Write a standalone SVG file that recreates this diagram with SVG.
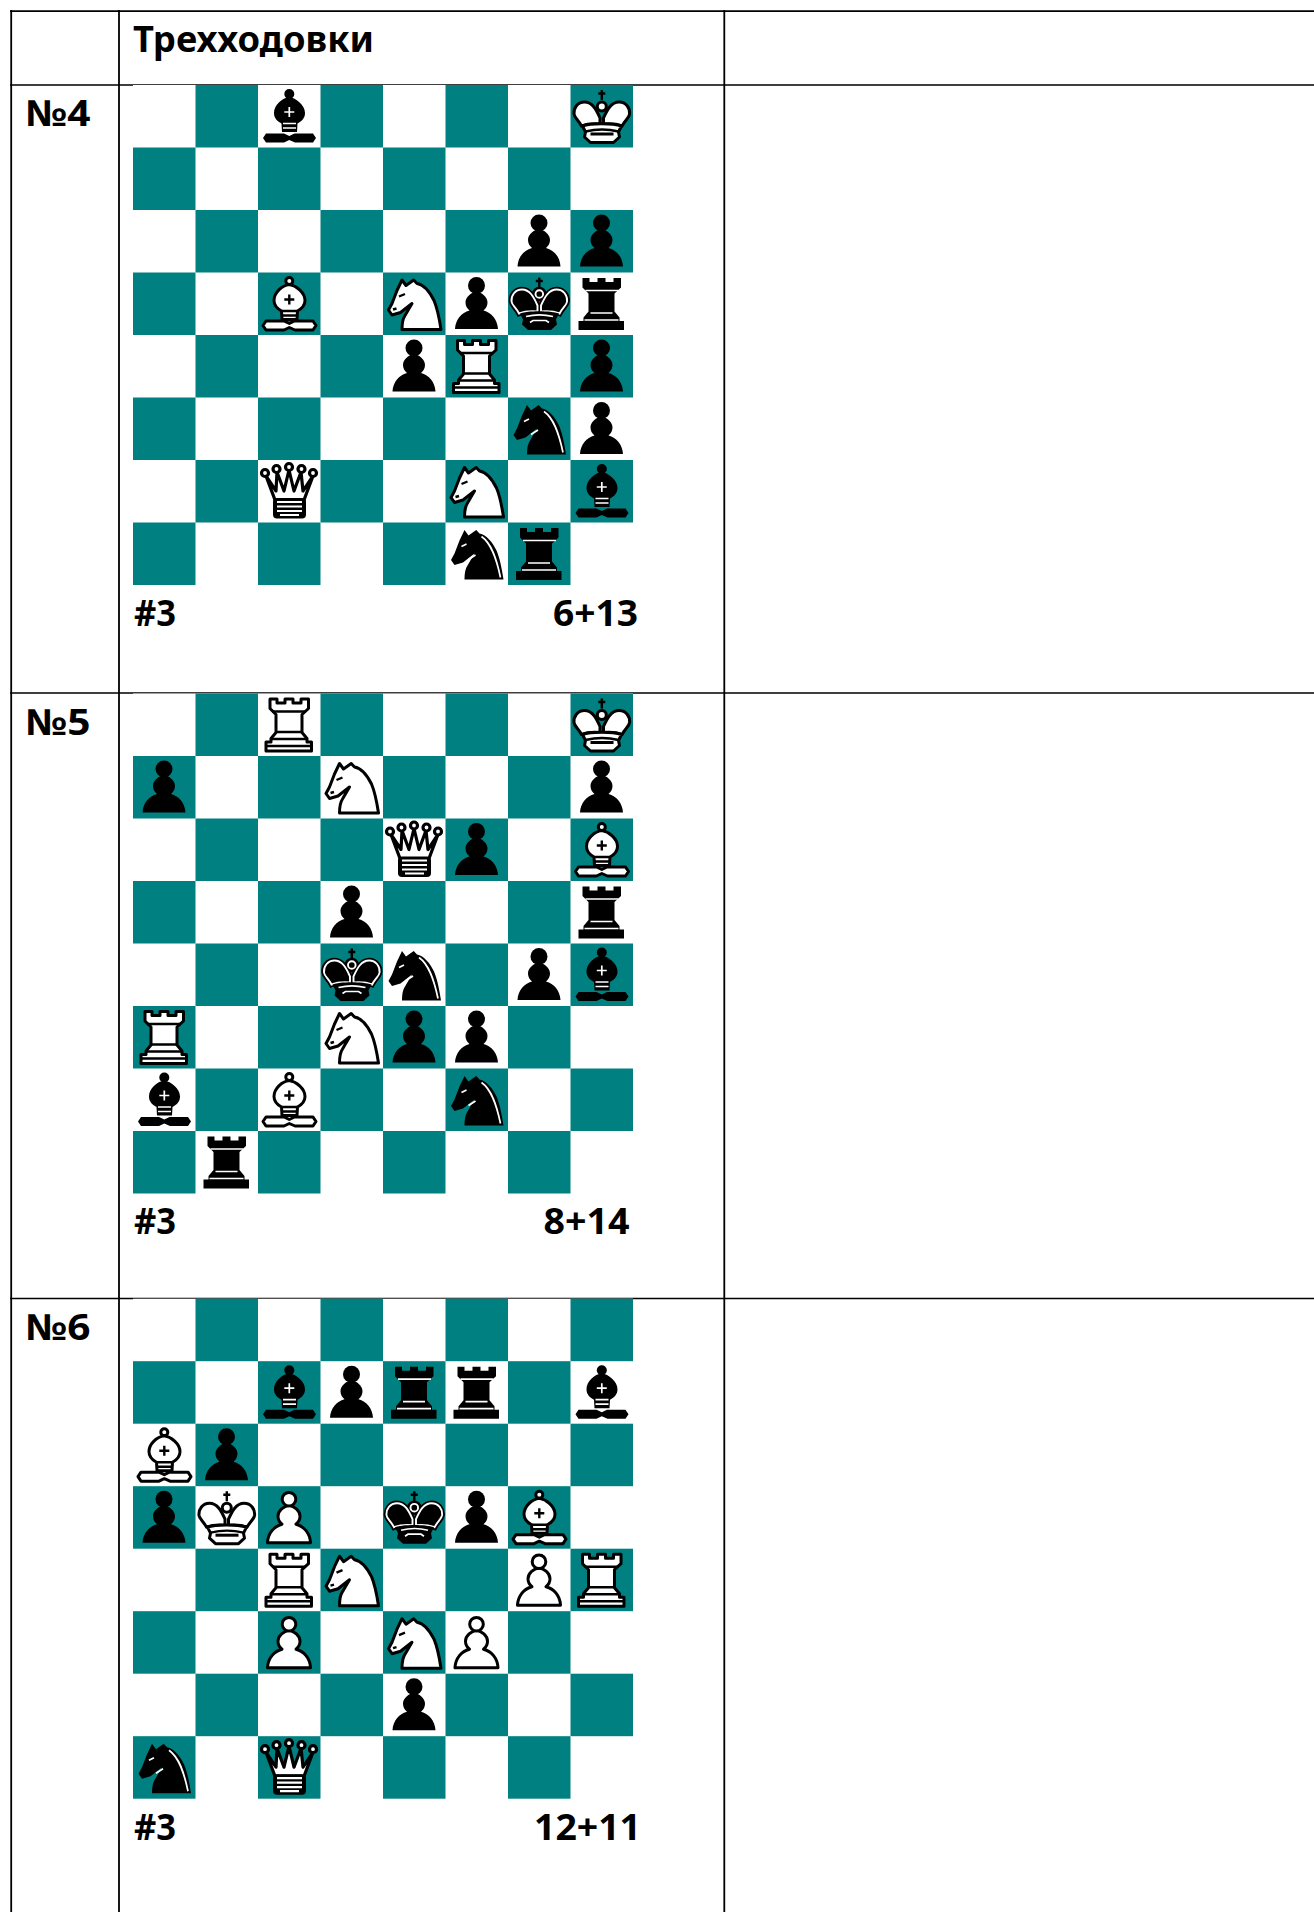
<svg xmlns="http://www.w3.org/2000/svg" width="1314" height="1912" viewBox="0 0 1314 1912">
<style>
.t{font-family:"Noto Sans","Open Sans","Liberation Sans",sans-serif;font-weight:700;font-size:36px;fill:#000}
.ln{stroke:#000;fill:none}
.d{fill:#008080}
.wp{fill:#fff;stroke:#000;stroke-width:3;stroke-linejoin:round}
.bp{fill:#000;stroke:none}
.kl{fill:none;stroke:#000;stroke-width:2.4}
.wl{fill:none;stroke:#fff;stroke-width:1.7}
</style>
<defs>
<path id="pB" d="M31 19C36 20 42 24 42 30C42 33 40.500 36 38 38C46 40 52 47 52.500 56.500H9.500C10 47 16 40 24 38C21.500 36 20 33 20 30C20 24 26 20 31 19Z"/>
<path id="rS" d="M12 5.500H19V9.500H27V5.500H35V9.500H43V5.500H50.500V15L44 21V39L49 45V48.500H53.500V57.500H8V48.500H13V45L18 39V21L12 15Z"/>
<path id="bB" d="M31.300 12C38 13 47 20 47 28C47 33 44 36 39.500 38.500L39 47H24L23.500 38.500C19 36 16 33 16 28C16 20 24 13 31.300 12Z"/>
<path id="bS" d="M5 53L8 48.500H26L31.300 51L36.500 48.500H55L58 53L55 57.500H37L31.300 55L26 57.500H8Z"/>
<path id="kL" d="M29.500 39V33C26 25 22 17 14 17C7 17 3 23 3.500 29C4 33 8 35 11 41C16 39 24 38.500 29.500 39Z"/>
<path id="kR" d="M33 39V33C36.600 25 40.600 17 48.600 17C55.600 17 59.600 23 59.100 29C58.600 33 54.600 35 51.600 41C46.600 39 38.600 38.500 33 39Z"/>
<path id="kB" d="M12 41C20 38 42 38 51 41L48 47L49 52L43 57.500H20L14 52L15 47Z"/>
<path id="nS" d="M19 7.500L23 13L30.700 7.500L34 11C41 12 47 20 51 28C54 35 56 44 58 57H19C19 50 20 46 22 43L29 31L17.500 40L9 42.500L5.500 37.500L9 31L14 18Z"/>
<g id="wP" class="wp"><use href="#pB"/><circle cx="31" cy="13" r="6.800"/></g>
<g id="bP" class="bp"><circle cx="31" cy="13" r="8.500"/><use href="#pB"/></g>
<g id="wR"><use href="#rS" class="wp"/><path class="kl" d="M14 18H48M19 38.500H43M14 45.500H48M9 52.500H53"/></g>
<g id="bR"><use href="#rS" class="bp"/><path class="wl" d="M15 18H48M20 40.500H42M14 47.500H48"/></g>
<g id="wB"><g class="wp"><circle cx="31.300" cy="8.500" r="3.500"/><use href="#bB"/><use href="#bS"/></g><path class="kl" stroke-width="3" d="M31.300 22V32M26.300 27H36.300"/><path class="kl" d="M24 38.500H39M24 43H39"/></g>
<g id="bB2"><g class="bp"><circle cx="31.300" cy="9" r="5"/><use href="#bB"/><use href="#bS"/></g><path class="wl" stroke-width="2.600" d="M31.300 22V32M26.300 27H36.300"/><path class="wl" d="M25 38.500H38M25 43H38"/></g>
<g id="wK"><path class="kl" stroke-width="3" d="M31.300 5V15M27.800 8.500H34.800"/><g class="wp"><use href="#kL"/><use href="#kR"/><circle cx="31.300" cy="21.500" r="4.500"/><use href="#kB"/></g><path class="kl" d="M15 46.500C25 44 38 44 48 46.500"/><rect x="20" y="47.500" width="23" height="3" fill="#000"/></g>
<g id="bK"><path class="kl" stroke-width="3" d="M31.300 5V15M27.800 8.500H34.800"/><g fill="#000" stroke="#000" stroke-width="5.500"><use href="#kL"/><use href="#kR"/><circle cx="31.300" cy="21.500" r="4.500"/></g><g fill="#000" stroke="#fff" stroke-width="1.900"><use href="#kL"/><use href="#kR"/><circle cx="31.300" cy="21.500" r="3.800"/></g><use href="#kB" class="bp"/><path class="wl" d="M18 44C26 42 37 42 45 44M22 50L25 48H38L41 50"/></g>
<g id="wQ"><g fill="#fff" stroke="#000" stroke-width="3.200" stroke-linejoin="round"><path d="M8 16L17 40H46L55 16L45 31L43 12L36 31L31 10L26 31L19 12L18 31Z"/><circle cx="7" cy="13" r="3.500"/><circle cx="18.500" cy="9" r="3.500"/><circle cx="31" cy="7" r="3.500"/><circle cx="43.500" cy="9" r="3.500"/><circle cx="55" cy="13" r="3.500"/></g><rect x="15" y="38" width="33" height="20.500" rx="4" fill="#000"/><path d="M19 42H44M19 46.500H44M19 51H44M22 55H41" stroke="#fff" stroke-width="2.200"/></g>
<g id="wN"><use href="#nS" class="wp"/><path class="kl" d="M16 24L22 21.500M10 37L13.500 36"/></g>
<g id="bN"><use href="#nS" class="bp"/><path class="wl" d="M36 14C46 21 51 36 55 55M16 24L21 21.500M23 37L30 32.500"/></g>
<g id="board">
<rect width="500" height="500" fill="#fff"/>
<g class="d">
<rect x="62.500" y="0" width="62.500" height="62.500"/><rect x="187.500" y="0" width="62.500" height="62.500"/><rect x="312.500" y="0" width="62.500" height="62.500"/><rect x="437.500" y="0" width="62.500" height="62.500"/>
<rect x="0" y="62.500" width="62.500" height="62.500"/><rect x="125" y="62.500" width="62.500" height="62.500"/><rect x="250" y="62.500" width="62.500" height="62.500"/><rect x="375" y="62.500" width="62.500" height="62.500"/>
<rect x="62.500" y="125" width="62.500" height="62.500"/><rect x="187.500" y="125" width="62.500" height="62.500"/><rect x="312.500" y="125" width="62.500" height="62.500"/><rect x="437.500" y="125" width="62.500" height="62.500"/>
<rect x="0" y="187.500" width="62.500" height="62.500"/><rect x="125" y="187.500" width="62.500" height="62.500"/><rect x="250" y="187.500" width="62.500" height="62.500"/><rect x="375" y="187.500" width="62.500" height="62.500"/>
<rect x="62.500" y="250" width="62.500" height="62.500"/><rect x="187.500" y="250" width="62.500" height="62.500"/><rect x="312.500" y="250" width="62.500" height="62.500"/><rect x="437.500" y="250" width="62.500" height="62.500"/>
<rect x="0" y="312.500" width="62.500" height="62.500"/><rect x="125" y="312.500" width="62.500" height="62.500"/><rect x="250" y="312.500" width="62.500" height="62.500"/><rect x="375" y="312.500" width="62.500" height="62.500"/>
<rect x="62.500" y="375" width="62.500" height="62.500"/><rect x="187.500" y="375" width="62.500" height="62.500"/><rect x="312.500" y="375" width="62.500" height="62.500"/><rect x="437.500" y="375" width="62.500" height="62.500"/>
<rect x="0" y="437.500" width="62.500" height="62.500"/><rect x="125" y="437.500" width="62.500" height="62.500"/><rect x="250" y="437.500" width="62.500" height="62.500"/><rect x="375" y="437.500" width="62.500" height="62.500"/>
</g>
</g>
</defs>
<rect width="1314" height="1912" fill="#fff"/>
<g id="table" class="ln">
<path stroke-width="1.800" d="M11.200 10V1912M119 10V1912M724.300 10V1912M10 11.200H1314"/>
<path stroke-width="1.600" d="M10 85H1314M10 693H1314M10 1298.500H1314"/>
</g>
<g id="board4" transform="translate(133,85)">
<use href="#board"/>
<use href="#bB2" x="125" y="0"/><use href="#wK" x="437.500" y="0"/>
<use href="#bP" x="375" y="125"/><use href="#bP" x="437.500" y="125"/>
<use href="#wB" x="125" y="187.500"/><use href="#wN" x="250" y="187.500"/><use href="#bP" x="312.500" y="187.500"/><use href="#bK" x="375" y="187.500"/><use href="#bR" x="437.500" y="187.500"/>
<use href="#bP" x="250" y="250"/><use href="#wR" x="312.500" y="250"/><use href="#bP" x="437.500" y="250"/>
<use href="#bN" x="375" y="312.500"/><use href="#bP" x="437.500" y="312.500"/>
<use href="#wQ" x="125" y="375"/><use href="#wN" x="312.500" y="375"/><use href="#bB2" x="437.500" y="375"/>
<use href="#bN" x="312.500" y="437.500"/><use href="#bR" x="375" y="437.500"/>
</g>
<g id="board5" transform="translate(133,693.500)">
<use href="#board"/>
<use href="#wR" x="125" y="0"/><use href="#wK" x="437.500" y="0"/>
<use href="#bP" x="0" y="62.500"/><use href="#wN" x="187.500" y="62.500"/><use href="#bP" x="437.500" y="62.500"/>
<use href="#wQ" x="250" y="125"/><use href="#bP" x="312.500" y="125"/><use href="#wB" x="437.500" y="125"/>
<use href="#bP" x="187.500" y="187.500"/><use href="#bR" x="437.500" y="187.500"/>
<use href="#bK" x="187.500" y="250"/><use href="#bN" x="250" y="250"/><use href="#bP" x="375" y="250"/><use href="#bB2" x="437.500" y="250"/>
<use href="#wR" x="0" y="312.500"/><use href="#wN" x="187.500" y="312.500"/><use href="#bP" x="250" y="312.500"/><use href="#bP" x="312.500" y="312.500"/>
<use href="#bB2" x="0" y="375"/><use href="#wB" x="125" y="375"/><use href="#bN" x="312.500" y="375"/>
<use href="#bR" x="62.500" y="437.500"/>
</g>
<g id="board6" transform="translate(133,1298.700)">
<use href="#board"/>
<use href="#bB2" x="125" y="62.500"/><use href="#bP" x="187.500" y="62.500"/><use href="#bR" x="250" y="62.500"/><use href="#bR" x="312.500" y="62.500"/><use href="#bB2" x="437.500" y="62.500"/>
<use href="#wB" x="0" y="125"/><use href="#bP" x="62.500" y="125"/>
<use href="#bP" x="0" y="187.500"/><use href="#wK" x="62.500" y="187.500"/><use href="#wP" x="125" y="187.500"/><use href="#bK" x="250" y="187.500"/><use href="#bP" x="312.500" y="187.500"/><use href="#wB" x="375" y="187.500"/>
<use href="#wR" x="125" y="250"/><use href="#wN" x="187.500" y="250"/><use href="#wP" x="375" y="250"/><use href="#wR" x="437.500" y="250"/>
<use href="#wP" x="125" y="312.500"/><use href="#wN" x="250" y="312.500"/><use href="#wP" x="312.500" y="312.500"/>
<use href="#bP" x="250" y="375"/>
<use href="#bN" x="0" y="437.500"/><use href="#wQ" x="125" y="437.500"/>
</g>
<g id="labels">
<text class="t" x="133" y="51.500" textLength="241" lengthAdjust="spacingAndGlyphs">Трехходовки</text>
<text class="t" x="25.500" y="125.500" textLength="65" lengthAdjust="spacingAndGlyphs">№4</text>
<text class="t" x="25.500" y="734.500" textLength="65" lengthAdjust="spacingAndGlyphs">№5</text>
<text class="t" x="25.500" y="1339.500" textLength="65" lengthAdjust="spacingAndGlyphs">№6</text>
<text class="t" x="134" y="625.500" textLength="42" lengthAdjust="spacingAndGlyphs">#3</text>
<text class="t" x="134" y="1234" textLength="42" lengthAdjust="spacingAndGlyphs">#3</text>
<text class="t" x="134" y="1839.500" textLength="42" lengthAdjust="spacingAndGlyphs">#3</text>
<text class="t" x="553" y="625.500" textLength="85" lengthAdjust="spacingAndGlyphs">6+13</text>
<text class="t" x="543.500" y="1234" textLength="86" lengthAdjust="spacingAndGlyphs">8+14</text>
<text class="t" x="534" y="1839.500" textLength="107" lengthAdjust="spacingAndGlyphs">12+11</text>
</g>
</svg>
